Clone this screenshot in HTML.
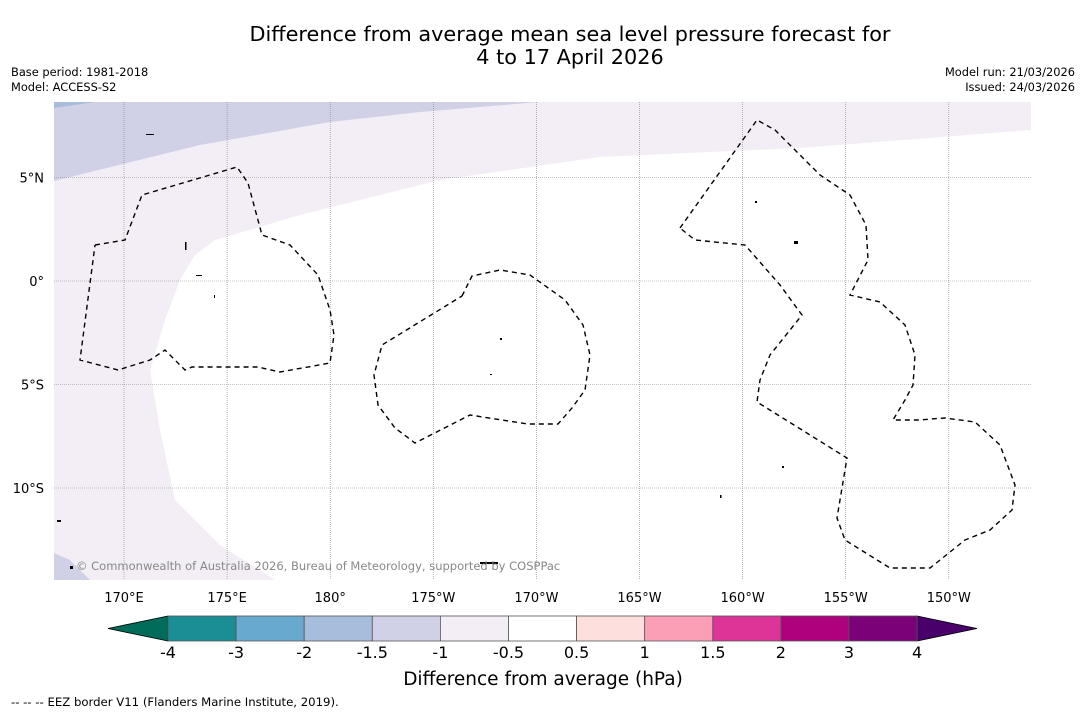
<!DOCTYPE html>
<html><head><meta charset="utf-8"><style>
body{margin:0;background:#fff;font-family:"DejaVu Sans","Liberation Sans",sans-serif;}
svg{display:block}
</style></head><body>
<svg id="fig" width="1085" height="713" viewBox="0 0 1085 713">
<rect width="1085" height="713" fill="#fff"/>
<text x="570" y="41" font-size="20.8" text-anchor="middle">Difference from average mean sea level pressure forecast for</text>
<text x="570" y="64" font-size="20.8" text-anchor="middle">4 to 17 April 2026</text>
<text x="11" y="76" font-size="11.4">Base period: 1981-2018</text>
<text x="11" y="91" font-size="11.4">Model: ACCESS-S2</text>
<text x="1075" y="76" font-size="11.4" text-anchor="end">Model run: 21/03/2026</text>
<text x="1075" y="91" font-size="11.4" text-anchor="end">Issued: 24/03/2026</text>
<g id="map">
<clipPath id="mc"><rect x="54" y="102" width="977" height="478"/></clipPath>
<g clip-path="url(#mc)">
<path fill="#f3eef6" d="M54 102 L1031 102 L1031 130 L800 148 L600 157 L440 180 L300 215 L215 240 L195 255 L180 280 L165 320 L150 370 L160 430 L175 500 L220 545 L275 580 L54 580 Z"/>
<path fill="#d0d1e6" d="M54 102 L540 102 L420 112 L330 122 L200 145 L54 181 Z"/>
<path fill="#d0d1e6" d="M54 553 L70 560 L90 580 L54 580 Z"/>
<path fill="#a6bddb" d="M54 102 L95 102 L54 108 Z"/>
</g>
<g id="grid" stroke="#888" stroke-width="0.6" stroke-dasharray="1,1"></g>
<g fill="none" stroke="#000" stroke-width="1.4" stroke-dasharray="5,4">
<polyline points="95,245 125,240 142,195 237,167 248,183 262,235 290,245 318,275 330,310 334,335 330,363 280,372 258,367 192,367 185,370 165,350 150,360 118,370 80,360 95,245"/>
<polyline points="462,296 472,276 500,270 530,275 565,300 583,325 590,355 585,390 572,408 558,424 528,424 470,415 415,443 395,428 378,405 374,375 382,345 462,296"/>
<polyline points="680,228 757,120 775,130 820,175 850,195 866,225 868,260 850,295 880,302 905,325 915,355 913,385 905,400 893,420 918,420 945,418 975,422 1000,445 1015,485 1012,510 990,530 965,540 930,568 890,568 845,540 837,518 847,458 757,402 760,380 770,355 802,315 780,285 745,245 695,240 680,228"/>
</g>
<g fill="#000">
<rect x="146" y="134" width="8" height="1"/><rect x="185" y="242" width="1.5" height="8"/><rect x="196" y="275" width="6" height="1"/><rect x="214" y="295" width="1" height="3"/><rect x="500" y="338" width="2" height="2"/><rect x="490" y="374" width="2" height="1"/><rect x="755" y="201" width="2" height="2"/><rect x="794" y="241" width="4" height="3"/><rect x="782" y="466" width="2" height="2"/><rect x="480" y="562" width="18" height="2"/><rect x="57" y="520" width="4" height="2"/><rect x="70" y="566" width="3" height="3"/><rect x="720" y="495" width="1.5" height="3"/>
</g>
<text x="76" y="570" font-size="11.5" fill="#888">© Commonwealth of Australia 2026, Bureau of Meteorology, supported by COSPPac</text>
<g id="ticks" font-size="13"></g>
</g>
<g id="cbar"></g>
<text x="543" y="685" font-size="18.5" text-anchor="middle">Difference from average (hPa)</text>
<text x="11" y="706" font-size="11.7">--  --  -- EEZ border V11 (Flanders Marine Institute, 2019).</text>
</svg>
<script>
const lonLabels=["170°E","175°E","180°","175°W","170°W","165°W","160°W","155°W","150°W"];
const lonValues=[170,175,180,185,190,195,200,205,210];
const latLabels=["5°N","0°","5°S","10°S"];
const latValues=[5,0,-5,-10];
const cbLevels=[-4,-3,-2,-1.5,-1,-0.5,0.5,1,1.5,2,3,4];
const cbColors=["#1b8e93","#67a9cf","#a6bddb","#d0d1e6","#f3eef6","#ffffff","#fde0dd","#fa9fb5","#dd3497","#ae017e","#7a0177"];
const cbUnder="#016c59", cbOver="#49006a";
const NS="http://www.w3.org/2000/svg";
function lonX(l){return 124+(l-170)*20.62;}
function latY(l){return 281-l*20.7;}
function mk(t,a,p){const e=document.createElementNS(NS,t);for(const k in a)e.setAttribute(k,a[k]);p.appendChild(e);return e;}
const grid=document.getElementById('grid'),ticks=document.getElementById('ticks');
lonValues.forEach((v,i)=>{const x=lonX(v);
 const l=mk('line',{x1:x,x2:x,y1:102,y2:580},grid);
 
 
 const t=mk('text',{x:x,y:602,'text-anchor':'middle'},ticks);t.textContent=lonLabels[i];
 
 });
latValues.forEach((v,i)=>{const y=latY(v);
 const l=mk('line',{x1:54,x2:1031,y1:y,y2:y},grid);
 
 
 const t=mk('text',{x:44,y:y+5,'text-anchor':'end'},ticks);t.textContent=latLabels[i];
 
 });
const cb=document.getElementById('cbar');
const x0=168,seg=68.1,y0=616,h=25;
function cx(i){return x0+i*seg;}
const u=mk('polygon',{points:`${cx(0)},${y0} ${108},${y0+h/2} ${cx(0)},${y0+h}`,fill:cbUnder,stroke:'#000','stroke-width':0.8},cb);


const n=cbColors.length;
const o=mk('polygon',{points:`${cx(n)},${y0} ${977},${y0+h/2} ${cx(n)},${y0+h}`,fill:cbOver,stroke:'#000','stroke-width':0.8},cb);


cbColors.forEach((c,i)=>{const r=mk('rect',{x:cx(i),y:y0,width:seg,height:h,fill:c,stroke:'#555','stroke-width':0.8},cb);
 
 });
cbLevels.forEach((v,i)=>{const t=mk('text',{x:cx(i),y:658,'font-size':16,'text-anchor':'middle'},cb);t.textContent=String(v);
 
 });
</script>
</body></html>
